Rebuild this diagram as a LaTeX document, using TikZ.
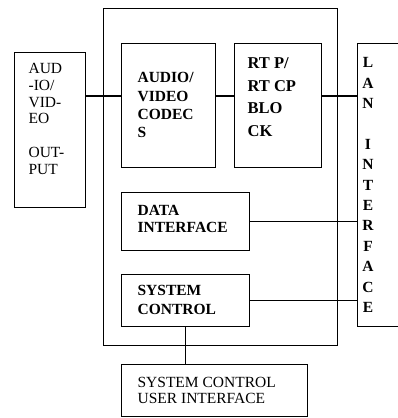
\documentclass[tikz,border=0pt]{standalone}
\usepackage{fontspec}
\setmainfont{Liberation Serif}
\begin{document}
\begin{tikzpicture}[x=1pt,y=-1pt,line width=1.2pt,
        blk/.style={draw,rectangle,inner sep=0pt,anchor=north west},
        lbl/.style={inner sep=0pt,anchor=north west,align=left,font=\fontsize{15.5}{16.7}\selectfont},
        blbl/.style={lbl,font=\bfseries\fontsize{15.5}{18.3}\selectfont}]
        \useasboundingbox (0,0) rectangle (397,418);
        % blocks
        \node[blk,minimum width=234pt,minimum height=337pt] (unit) at (103,8) {};
        \node[blk,minimum width=71pt,minimum height=155pt] (avout) at (14,52) {};
        \node[blk,minimum width=94pt,minimum height=124pt] (codecs) at (121,43) {};
        \node[blk,minimum width=87pt,minimum height=124pt] (rtp) at (234,43) {};
        \node[blk,minimum width=60pt,minimum height=283pt] (lan) at (357,43) {};
        \node[blk,minimum width=128pt,minimum height=58pt] (data) at (121,192) {};
        \node[blk,minimum width=128pt,minimum height=52pt] (sys) at (121,274) {};
        \node[blk,minimum width=186pt,minimum height=52pt] (user) at (121,364) {};
        % labels
        \node[lbl] (avoutT) at (28,63) {AUD\\-IO/\\VID-\\EO\\[16.7pt]OUT-\\PUT};
        \node[blbl] (codecsT) at (137,72) {AUDIO/\\VIDEO\\CODEC\\S};
        \node[blbl,font=\bfseries\fontsize{16.5}{22.7}\selectfont] (rtpT) at (247,57) {RT P/\\RT CP\\BLO\\CK};
        \node[blbl,align=center,anchor=north,font=\bfseries\fontsize{15.5}{20.4}\selectfont] (lanT) at (368,57)
            {L\\A\\N\\[20.4pt]I\\N\\T\\E\\R\\F\\A\\C\\E};
        \node[blbl,font=\bfseries\fontsize{15.5}{17}\selectfont] (dataT) at (137,205) {DATA\\INTERFACE};
        \node[blbl] (sysT) at (137,285) {SYSTEM\\CONTROL};
        \node[lbl,font=\fontsize{15.5}{16}\selectfont] (userT) at (137,377) {SYSTEM CONTROL\\USER INTERFACE};
        % links
        \coordinate (av) at (0,96);
        \draw (avout.east |- av) -- (codecs.west |- av);
        \draw (codecs.east |- av) -- (rtp.west |- av);
        \draw (rtp.east |- av) -- (lan.west |- av);
        \draw (data.east) -- (data.east -| lan.west);
        \draw (sys.east) -- (sys.east -| lan.west);
        \draw (sys.south) -- (sys.south |- user.north);
    \end{tikzpicture}
\end{document}
